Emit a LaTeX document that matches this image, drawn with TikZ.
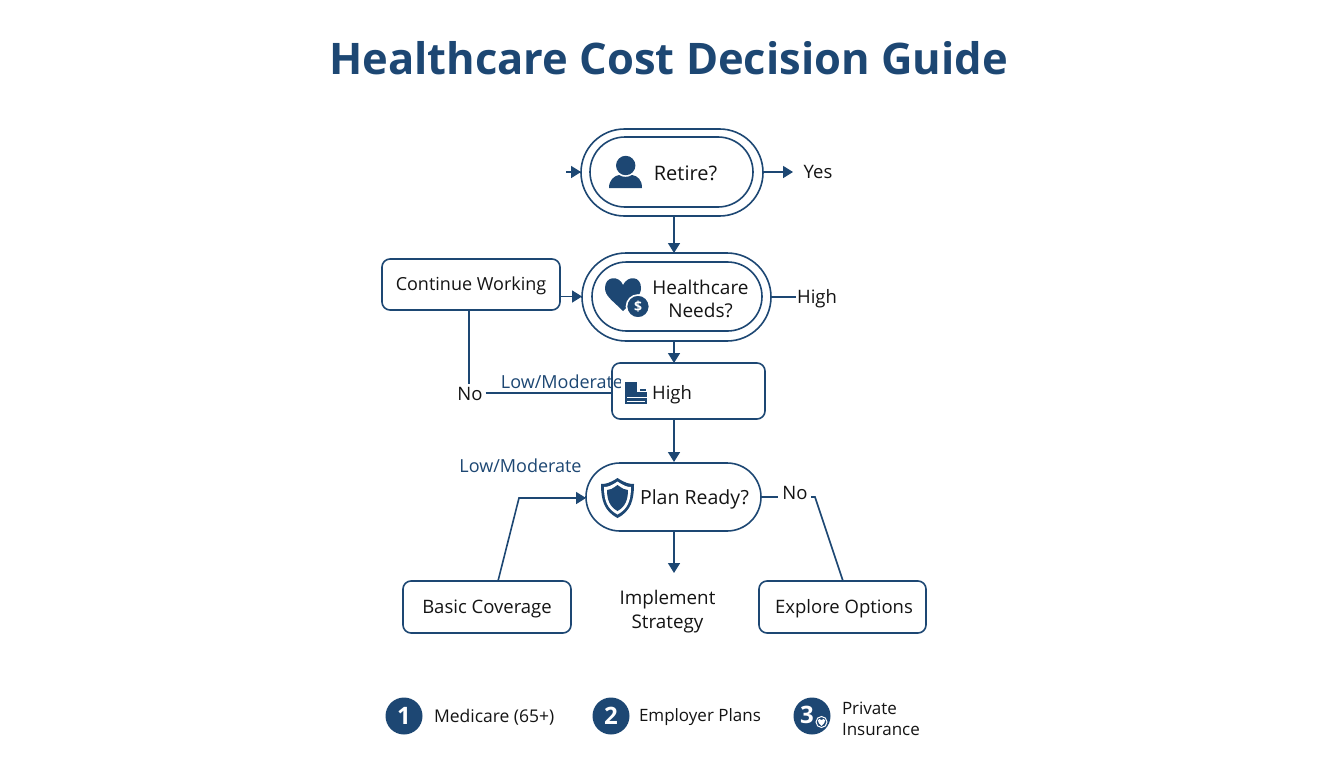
\documentclass[tikz,border=0pt]{standalone}
\usepackage{fontspec}
\setmainfont{Open Sans}
\usetikzlibrary{arrows.meta,calc}
\definecolor{navy}{HTML}{1D4773}
\definecolor{ink}{HTML}{141414}
\tikzset{
  every node/.style={inner sep=0pt,outer sep=0pt},
  shapebox/.style={draw=navy,line width=1.6pt,fill=white},
  txt/.style={text=ink,font=\fontsize{18.5}{23}\selectfont,align=center},
  bluetxt/.style={text=navy,font=\fontsize{18}{22}\selectfont,align=center},
  link/.style={draw=navy,line width=1.6pt},
  flow/.style={link,-{Triangle[length=10pt,width=12pt]}},
  bullet/.style={circle,fill=navy,minimum size=37pt,text=white,font=\bfseries\fontsize{24}{26}\selectfont},
  icon/.style={fill=navy,draw=none}
}
\newcommand{\stadium}[6]{% name,cx,cy,w,h,radius
  \node[shapebox,minimum width=#4pt,minimum height=#5pt,rounded corners=#6pt] (#1) at (#2,#3) {};
}
\begin{document}
\begin{tikzpicture}[x=1pt,y=-1pt]
\useasboundingbox (0,0) rectangle (1344,768);
\fill[white] (0,0) rectangle (1344,768);
\node[text=navy,font=\bfseries\fontsize{43.5}{50}\selectfont] (title) at (668.5,58) {Healthcare Cost Decision Guide};

% shapes
\stadium{retireO}{672}{172.5}{182}{87}{43.5}
\stadium{retireI}{671.5}{172}{163}{70}{35}
\stadium{healthO}{676.5}{297}{189}{88}{44}
\stadium{healthI}{677}{296.5}{170}{69}{34.5}
\node[shapebox,minimum width=178pt,minimum height=51pt,rounded corners=8pt] (cont) at (471,284.5) {};
\node[shapebox,minimum width=153pt,minimum height=56pt,rounded corners=8pt] (high) at (688.5,391) {};
\stadium{plan}{673.5}{497}{175}{68}{34}
\node[shapebox,minimum width=168pt,minimum height=52pt,rounded corners=8pt] (basic) at (487,607) {};
\node[shapebox,minimum width=167pt,minimum height=52pt,rounded corners=8pt] (explore) at (842.5,607) {};

% texts
\node[txt,font=\fontsize{20}{24}\selectfont] (tRetire) at (685.5,173) {Retire?};
\node[txt] (tYes) at (818,171.5) {Yes};
\node[txt,font=\fontsize{19}{23.5}\selectfont] (tHealth) at (700.5,299) {Healthcare\\Needs?};
\node[txt] (tHighR) at (817,298.5) {High};
\node[txt,font=\fontsize{18}{23}\selectfont] (tCont) at (471,286) {Continue Working};
\node[txt] (tHigh) at (672,394.5) {High};
\node[txt] (tNoL) at (470,394) {No};
\node[bluetxt] (tLow1) at (562,381.5) {Low/Moderate};
\node[bluetxt] (tLow2) at (520.5,466) {Low/Moderate};
\node[txt,font=\fontsize{19.5}{24}\selectfont] (tPlan) at (694.5,499) {Plan Ready?};
\node[txt] (tNoR) at (795,493) {No};
\node[txt] (tBasic) at (487,609) {Basic Coverage};
\node[txt,font=\fontsize{18.8}{24}\selectfont] (tImpl) at (667.5,612) {Implement\\Strategy};
\node[txt] (tExpl) at (844,609) {Explore Options};

% connectors
\coordinate (inL) at (566,172);
\coordinate (yesEnd) at (793,172);
\coordinate (h1) at (674,0);
\draw[flow] (inL) -- (inL -| retireO.west);
\draw[flow] (retireO.east |- yesEnd) -- (yesEnd);
\draw[flow] (retireO.south -| h1) -- (healthO.north -| h1);
\coordinate (cr) at (0,296.5);
\draw[flow] (cont.east |- cr) -- (healthO.west |- cr);
\draw[link] (healthO.east) -- ($(tHighR.west |- healthO.east)+(-1,0)$);
\draw[flow] (healthO.south -| h1) -- (high.north -| h1);
\draw[flow] (high.south -| h1) -- ($(plan.north -| h1)+(0,-1)$);
\coordinate (cd) at (469,0);
\draw[link] (cont.south -| cd) -- ($(tNoL.north -| cd)+(0,-3)$);
\coordinate (nr) at (0,393);
\draw[link] ($(tNoL.east |- nr)+(3,0)$) -- (high.west |- nr);
\coordinate (b0) at (498,581);
\coordinate (b1) at (519,498);
\draw[flow] (b0) -- (b1) -- (plan.west |- b1);
\draw[link] (plan.east) -- ($(tNoR.west |- plan.east)+(-4,0)$);
\coordinate (e0) at (811,497);
\coordinate (e1) at (815,497);
\coordinate (e2) at (843,581);
\draw[link] (e0) -- (e1) -- (e2);
\coordinate (i1) at (674,573);
\draw[flow] (plan.south -| i1) -- (i1);

% icons
\fill[icon] (625.7,165.5) circle (9.7);
\fill[icon] (609,188) .. controls (609,180) and (614,176) .. (619,175) .. controls (622,177.5) and (629,177.5) .. (632,175) .. controls (638,176) and (642,180) .. (642,188) -- cycle;
\fill[icon] (623,311) .. controls (612,300) and (605,296) .. (605,288) .. controls (605,276) and (619,275) .. (623,285) .. controls (628,275) and (641,276) .. (641,288) .. controls (641,296) and (634,300) .. (623,311) -- cycle;
\node[circle,fill=navy,draw=white,line width=1.6pt,minimum size=23pt,text=white,font=\bfseries\fontsize{14}{14}\selectfont] (dollar) at (638,306.5) {\$};
% document icon
\fill[white] (621,380) rectangle (650,408);
\fill[icon] (625,382) rectangle (637,392);
\fill[icon] (625,392) rectangle (647,404);
\fill[white] (627,396.5) rectangle (647,398);
\fill[white] (627,400.5) rectangle (645,402);
\fill[icon] (640,389) rectangle (646,390.5);
% shield
\fill[icon] (617.5,478) .. controls (610,483) and (606,484) .. (601,484) .. controls (601,500) and (604,511) .. (617.5,518) .. controls (631,511) and (634,500) .. (634,484) .. controls (629,484) and (625,483) .. (617.5,478) -- cycle;
\fill[white] (617.5,481.5) .. controls (611,486) and (608,487) .. (604,487) .. controls (604,500) and (607,509) .. (617.5,514.5) .. controls (628,509) and (631,500) .. (631,487) .. controls (627,487) and (624,486) .. (617.5,481.5) -- cycle;
\fill[icon] (617.5,485) .. controls (612,489) and (610,490) .. (607,490) .. controls (607,500) and (610,507) .. (617.5,511) .. controls (625,507) and (628,500) .. (628,490) .. controls (625,490) and (623,489) .. (617.5,485) -- cycle;

% legend
\node[bullet] (n1) at (404,716) {1};
\node[bullet] (n2) at (611,716) {2};
\node[bullet] (n3) at (812,716) {};
\node[text=white,font=\bfseries\fontsize{24}{26}\selectfont] (n3t) at (807,715) {3};
\node[circle,draw=white,line width=1pt,minimum size=11pt,fill=navy] (n3b) at (821.5,722) {};
\fill[white] (821.5,726) .. controls (818.5,723) and (818,722) .. (818,720.5) .. controls (818,718.5) and (820.5,718.5) .. (821.5,720) .. controls (822.5,718.5) and (825,718.5) .. (825,720.5) .. controls (825,722) and (824.5,723) .. (821.5,726) -- cycle;
\node[txt,font=\fontsize{17.5}{21}\selectfont,anchor=west] (l1) at (434,717) {Medicare (65+)};
\node[txt,font=\fontsize{17}{21}\selectfont,anchor=west] (l2) at (639,717) {Employer Plans};
\node[txt,font=\fontsize{17}{21}\selectfont,anchor=west,align=left] (l3) at (842,719) {Private\\Insurance};
\end{tikzpicture}
\end{document}
